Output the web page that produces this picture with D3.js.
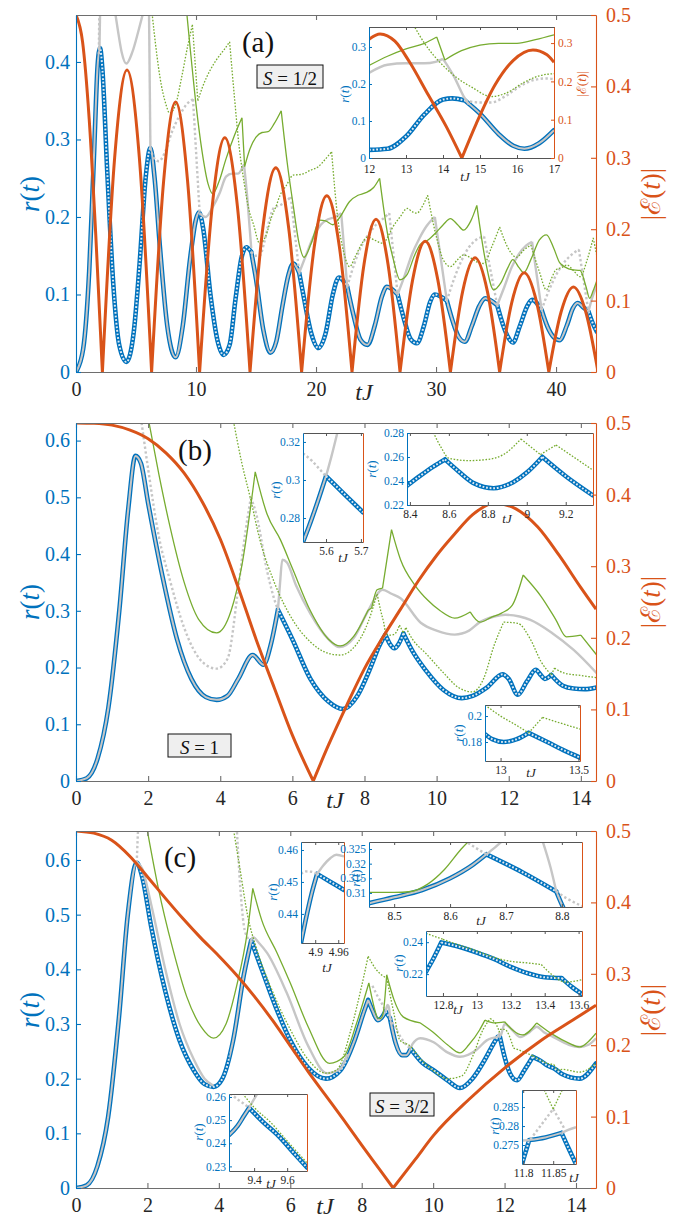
<!DOCTYPE html>
<html>
<head>
<meta charset="utf-8">
<script src="https://cdn.jsdelivr.net/npm/d3@7"></script>
<style>
body { margin: 0; background: #fff; }
svg { display: block; }
svg text { font-family: 'Liberation Serif', 'Times New Roman', Times, 'DejaVu Serif', serif; }
</style>
</head>
<body>
<script>
// points are [tJ, value] ; a third entry 1 marks a cusp (curve restarts there)

// ---------- panel (a), S = 1/2 ----------
var aTicksX = [0, 10, 20, 30, 40];
var aTicksR = [0, 0.1, 0.2, 0.3, 0.4];
var eTicks = [0, 0.1, 0.2, 0.3, 0.4, 0.5];

var aOrange = [
  [0,0.5],[0.55,0.462],[1.1,0.354],[1.65,0.191],[2.2,0,1],
  [3.22,0.30],[4.25,0.423],[5.28,0.30],[6.3,0,1],
  [7.3,0.267],[8.3,0.378],[9.3,0.267],[10.3,0,1],
  [11.35,0.232],[12.4,0.328],[13.45,0.232],[14.5,0,1],
  [15.57,0.202],[16.65,0.286],[17.72,0.202],[18.8,0,1],
  [19.85,0.175],[20.9,0.247],[21.95,0.175],[23.0,0,1],
  [24.0,0.151],[25.0,0.214],[26.0,0.151],[27.0,0,1],
  [28.05,0.129],[29.1,0.183],[30.15,0.129],[31.2,0,1],
  [32.22,0.113],[33.25,0.160],[34.28,0.113],[35.3,0,1],
  [36.32,0.098],[37.35,0.139],[38.38,0.098],[39.4,0,1],
  [40.42,0.084],[41.45,0.119],[42.48,0.084],[43.5,0,1]
];
var aBlue = [
  [0,0],[0.6,0.03],[1.1,0.13],[1.5,0.28],[1.8,0.395],[2.0,0.418],[2.2,0.39],[2.6,0.26],[3.1,0.115],
  [3.6,0.035],[4.2,0.013],[4.8,0.05],[5.3,0.14],[5.8,0.25],[6.2,0.289],[6.55,0.25],[7.0,0.16],
  [7.6,0.06],[8.3,0.019],[8.9,0.06],[9.5,0.145],[10.0,0.197],[10.25,0.206],[10.6,0.185],[11.2,0.1],
  [11.8,0.04],[12.3,0.022],[12.8,0.035],[13.3,0.095],[13.8,0.148],[14.2,0.161],[14.6,0.155,1],
  [15.0,0.12],[15.6,0.055],[16.2,0.025],[16.7,0.04],[17.2,0.085],[17.7,0.125],[18.1,0.14],
  [18.6,0.128,1],[19.0,0.095],[19.6,0.05],[20.2,0.031],[20.8,0.05],[21.4,0.1],[21.9,0.122],
  [22.6,0.11,1],[23.1,0.075],[23.7,0.042],[24.3,0.035],[24.9,0.06],[25.5,0.098],[25.9,0.11],
  [26.8,0.1,1],[27.3,0.07],[27.9,0.042],[28.4,0.037],[29.0,0.06],[29.5,0.09],[29.9,0.1],
  [30.9,0.092,1],[31.4,0.065],[31.9,0.045],[32.4,0.039],[33.0,0.06],[33.6,0.085],[34.1,0.095],
  [35.1,0.086,1],[35.6,0.06],[36.0,0.045],[36.4,0.038],[37.0,0.06],[37.6,0.085],[38.0,0.093],
  [38.8,0.08,1],[39.3,0.058],[39.8,0.045],[40.3,0.041],[40.9,0.06],[41.4,0.082],[41.8,0.089],
  [42.3,0.083],[42.7,0.078,1],[43.0,0.065],[43.4,0.052]
];
var aCore = [[0,2.0],[6.2,10.3],[14.6,18.6],[22.6,26.8],[30.9,35.1],[38.8,42.7]];
var aDots = [[2.0,6.2],[10.3,14.6],[18.6,22.6],[26.8,30.9],[35.1,38.8],[42.7,44]];
var aGraySolid = [
  [[1.95,0.415],[2.05,0.5]],
  [[3.2,0.47],[3.5,0.44],[3.8,0.413],[4.2,0.398],[4.7,0.413],[5.2,0.44],[5.7,0.47]],
  [[6.08,0.47],[6.2,0.289]],
  [[10.3,0.205],[10.8,0.2],[11.4,0.213],[12.0,0.232],[12.5,0.252],[13.0,0.256],[13.5,0.256],[14.0,0.268,1],[14.3,0.22],[14.6,0.16]],
  [[18.6,0.128],[19.2,0.152],[19.8,0.175],[20.4,0.19],[21.0,0.197],[21.6,0.2],[22.1,0.205,1],[22.6,0.11]],
  [[26.8,0.1],[27.4,0.125],[28.0,0.152],[28.6,0.172],[29.2,0.188],[29.9,0.2,1],[30.9,0.092]],
  [[35.1,0.086],[35.7,0.11],[36.3,0.135],[36.9,0.152],[37.5,0.163],[38.0,0.168,1],[38.8,0.08]],
  [[42.7,0.078],[43.0,0.095],[43.4,0.112]]
];
var aGrayDot = [
  [[1.9,0.41],[1.97,0.5]],
  [[6.2,0.289],[6.5,0.276],[6.9,0.272],[7.4,0.283],[8.0,0.31],[8.6,0.33],[9.2,0.345],[9.75,0.352,1],[10.3,0.206]],
  [[14.6,0.155],[15.0,0.15],[15.3,0.15],[15.7,0.168],[16.1,0.195],[16.5,0.212],[17.0,0.215],[17.5,0.22],[17.9,0.226,1],[18.6,0.128]],
  [[22.6,0.11],[23.2,0.14],[23.8,0.163],[24.4,0.178],[25.0,0.19],[25.6,0.198],[26.1,0.205,1],[26.8,0.1]],
  [[30.9,0.092],[31.5,0.12],[32.1,0.143],[32.7,0.16],[33.3,0.17],[34.0,0.175,1],[35.1,0.086]],
  [[38.8,0.08],[39.4,0.105],[40.0,0.125],[40.6,0.14],[41.2,0.15],[41.9,0.158,1],[42.7,0.078]]
];
var aGreenSolid = [
  [9.0,0.5],[9.5,0.42],[10.0,0.345],[10.5,0.285],[11.0,0.243],[11.4,0.23],[11.9,0.245],[12.5,0.275],
  [13.2,0.305],[13.83,0.328,1],[14.05,0.265,1],[14.5,0.288],[15.0,0.303],[15.5,0.309],[16.0,0.31],
  [16.5,0.32],[17.1,0.337,1],[17.6,0.27],[18.1,0.215],[18.6,0.165],[19.0,0.148],[19.6,0.166],
  [20.3,0.196],[20.8,0.195],[21.4,0.19],[22.0,0.2],[22.8,0.22],[23.5,0.228],[24.1,0.231],[24.8,0.238],
  [25.3,0.25,1],[26.0,0.175],[26.4,0.148],[27.0,0.119],[27.6,0.126],[28.2,0.15],[28.7,0.165],
  [29.3,0.17],[30.0,0.18],[30.6,0.19],[31.2,0.198],[31.8,0.19],[32.3,0.183],[32.9,0.195],
  [33.4,0.215,1],[34.1,0.145],[34.8,0.106],[35.4,0.115],[36.0,0.135],[36.4,0.145],[36.9,0.135],
  [37.3,0.128],[37.9,0.145],[38.6,0.17],[39.2,0.177],[39.8,0.16],[40.3,0.141],[40.8,0.135],
  [41.3,0.132],[42.0,0.131],[42.5,0.11],[42.8,0.095],[43.1,0.105],[43.4,0.118]
];
var aGreenDot = [
  [6.1,0.5],[6.5,0.44],[7.0,0.38],[7.5,0.345],[7.8,0.334],[8.3,0.345],[8.8,0.38],[9.3,0.42],
  [9.7,0.448,1],[10.15,0.35,1],[10.6,0.37],[11.2,0.39],[11.8,0.405],[12.3,0.415],[12.8,0.426,1],
  [13.2,0.355],[13.6,0.29],[14.0,0.245],[14.4,0.21],[14.8,0.19],[15.3,0.166],[15.8,0.175],
  [16.3,0.2],[16.7,0.215],[17.0,0.228],[17.5,0.24],[18.1,0.254],[18.8,0.255],[19.5,0.26],
  [20.2,0.265],[20.8,0.275],[21.3,0.284,1],[21.8,0.2],[22.3,0.155],[22.8,0.136],[23.3,0.15],
  [23.8,0.165],[24.3,0.174],[24.9,0.17],[25.6,0.166],[26.0,0.175],[26.4,0.187],[27.0,0.2],
  [27.6,0.211],[28.0,0.207],[28.4,0.205],[28.9,0.215],[29.3,0.228,1],[30.1,0.17],[30.6,0.145],
  [31.2,0.136],[31.8,0.145],[32.3,0.151],[32.8,0.148],[33.4,0.142],[34.0,0.14],[34.6,0.16],
  [35.3,0.187,1],[36.0,0.16],[36.7,0.148],[37.3,0.157],[37.9,0.164,1],[38.6,0.13],[39.2,0.106],
  [39.6,0.12],[40.0,0.132],[40.5,0.135],[40.9,0.138],[41.5,0.13],[42.0,0.123],[42.6,0.145],
  [43.1,0.173,1],[43.4,0.15]
];

// inset of (a), 12 < tJ < 17
var iaTicksX = [12, 13, 14, 15, 16, 17];
var iaTicksR = [0, 0.1, 0.2, 0.3];
var iaBlue = [[12,0.022],[12.5,0.025],[13,0.058],[13.5,0.118],[14,0.158],[14.25,0.161],[14.6,0.155,1],
  [15,0.12],[15.5,0.065],[15.9,0.033],[16.2,0.025],[16.6,0.04],[17,0.075]];
var iaCore = [[14.6,17.1]];
var iaDots = [[11.9,14.6]];
var iaGraySolid = [[[12,0.23],[12.5,0.252],[13,0.256],[13.5,0.256],[13.8,0.26],[14.0,0.268,1],[14.3,0.22],[14.55,0.168],[14.7,0.145]]];
var iaGrayDot = [[[14.6,0.155],[15.0,0.15],[15.3,0.15],[15.7,0.168],[16.1,0.195],[16.5,0.212],[16.8,0.215],[17,0.213]]];
var iaGreenSolid = [[12,0.25],[12.5,0.275],[13,0.295],[13.5,0.31],[13.83,0.327,1],[14.05,0.265,1],[14.5,0.29],
  [15,0.305],[15.5,0.31],[16,0.31],[16.5,0.32],[17,0.333]];
var iaGreenDot = [[13.2,0.36],[13.5,0.31],[14,0.25],[14.4,0.215],[14.8,0.19],[15.3,0.166],[15.7,0.175],
  [16.2,0.205],[16.6,0.222],[17,0.228]];
var iaOrange = [[12,0.31],[12.3,0.324],[12.7,0.305],[13.1,0.25],[13.6,0.165],[14.1,0.08],[14.51,0,1],
  [14.9,0.09],[15.4,0.19],[15.9,0.255],[16.43,0.282],[16.8,0.27],[17,0.25]];

// ---------- panel (b), S = 1 ----------
var bcTicksX = [0, 2, 4, 6, 8, 10, 12, 14];
var bcTicksR = [0, 0.1, 0.2, 0.3, 0.4, 0.5, 0.6];
var bOrange = [[0,0.5],[0.5,0.4995],[1.0,0.497],[1.5,0.49],[2.0,0.478],[2.5,0.458],[3.0,0.43],
  [3.5,0.39],[4.0,0.338],[4.5,0.27],[5.0,0.197],[5.5,0.13],[6.0,0.064],[6.58,0,1],[7.0,0.05],
  [7.5,0.105],[8.0,0.157],[8.5,0.2],[9.0,0.24],[9.5,0.28],[10.0,0.315],[10.5,0.345],[11.0,0.372],
  [11.6,0.388],[12.2,0.38],[12.8,0.355],[13.4,0.315],[14.0,0.27],[14.42,0.24]];
var bBlue = [[0,0],[0.3,0.005],[0.6,0.04],[0.9,0.13],[1.2,0.3],[1.45,0.48],[1.65,0.573],[1.8,0.56],
  [2.0,0.49],[2.4,0.36],[2.8,0.25],[3.2,0.18],[3.6,0.148],[3.9,0.143],[4.2,0.15],[4.5,0.18],
  [4.9,0.222],[5.2,0.205],[5.4,0.24],[5.6,0.302,1],[6.0,0.25],[6.5,0.18],[7.0,0.14],[7.4,0.127],
  [7.8,0.15],[8.2,0.205],[8.4,0.237],[8.58,0.258,1],[8.7,0.242],[8.83,0.234],[8.95,0.242],
  [9.08,0.26,1],[9.34,0.228],[9.7,0.195],[10.2,0.16],[10.7,0.146],[11.0,0.15],[11.4,0.165],
  [11.83,0.188],[12.0,0.18],[12.25,0.152],[12.5,0.175],[12.75,0.196],[12.9,0.186],[13.0,0.18],
  [13.18,0.187,1],[13.5,0.168],[13.8,0.163],[14.1,0.162],[14.44,0.165]];
var bCore = [[0,5.6]];
var bDots = [[5.6,15]];
var bGraySolid = [[[5.6,0.302],[5.66,0.35],[5.72,0.39],[5.85,0.385],[6.1,0.345],[6.5,0.295],[7.0,0.25],
  [7.3,0.236],[7.7,0.252],[8.1,0.3],[8.5,0.337],[8.75,0.33],[9.0,0.322],[9.56,0.279],[10.0,0.265],
  [10.5,0.258],[10.9,0.265],[11.2,0.28],[11.6,0.29],[11.9,0.293],[12.3,0.29],[12.6,0.284],
  [13.2,0.261],[13.8,0.231],[14.44,0.19]]];
var bGrayDot = [[[1.8,0.64],[2.0,0.55],[2.3,0.43],[2.6,0.355],[3.0,0.27],[3.5,0.21],[3.9,0.198],
  [4.2,0.215],[4.5,0.34],[4.7,0.44],[4.85,0.5,1],[5.0,0.47],[5.3,0.37],[5.53,0.314],[5.6,0.302]]];
var bGreenSolid = [[2.0,0.64],[2.3,0.54],[2.6,0.45],[3.0,0.35],[3.4,0.285],[3.9,0.261],[4.3,0.3],
  [4.6,0.38],[4.97,0.545,1],[5.3,0.47],[5.67,0.425],[6.0,0.375],[6.5,0.3],[7.0,0.25],[7.33,0.238],
  [7.7,0.255],[8.1,0.301,1],[8.2,0.305,1],[8.35,0.337],[8.5,0.34,1],[8.75,0.443,1],[9.0,0.39],
  [9.4,0.345],[9.75,0.319],[10.1,0.3],[10.5,0.287],[10.93,0.298,1],[11.2,0.28],[11.5,0.288],
  [11.8,0.296],[12.1,0.31],[12.4,0.363,1],[12.9,0.325],[13.3,0.285],[13.6,0.254],[14.0,0.257,1],
  [14.44,0.222]];
var bGreenDot = [[4.35,0.64],[4.6,0.56],[4.83,0.5],[5.1,0.425],[5.5,0.35],[6.0,0.285],[6.5,0.245],
  [7.0,0.225],[7.33,0.222],[7.7,0.235],[8.1,0.28],[8.35,0.33,1],[8.45,0.3],[8.53,0.28],[8.6,0.259],
  [8.7,0.257],[8.8,0.258],[8.9,0.264],[8.97,0.275,1],[9.07,0.262,1],[9.15,0.27,1],[9.34,0.249],
  [9.7,0.225],[10.2,0.19],[10.6,0.165],[11.0,0.157],[11.3,0.18],[11.6,0.24],[11.86,0.28,1],
  [12.25,0.278],[12.6,0.25],[12.9,0.21],[13.18,0.187,1],[13.27,0.199,1],[13.55,0.19],[14.0,0.186],
  [14.44,0.182]];

// insets of (b)
var ib1TicksX = [5.6, 5.7];
var ib1TicksR = [0.28, 0.3, 0.32];
var ib1Blue = [[5.534,0.2674],[5.55,0.275],[5.575,0.288],[5.6,0.302,1],[5.65,0.293],[5.706,0.283]];
var ib1Core = [[5.5,5.6]];
var ib1Dots = [[5.6,5.8]];
var ib1GraySolid = [[[5.6,0.302],[5.615,0.312],[5.634,0.326]]];
var ib1GrayDot = [[[5.534,0.314],[5.56,0.31],[5.58,0.306],[5.6,0.302]]];

var ib2TicksX = [8.4, 8.6, 8.8, 9, 9.2];
var ib2TicksR = [0.22, 0.24, 0.26, 0.28];
var ib2Blue = [[8.385,0.236],[8.45,0.244],[8.52,0.252],[8.58,0.258,1],[8.65,0.248],[8.73,0.238],
  [8.83,0.234],[8.93,0.239],[9.0,0.247],[9.08,0.26,1],[9.2,0.244],[9.34,0.228]];
var ib2Dots = [[8.3,9.4]];
var ib2GreenDot = [[8.52,0.2805],[8.56,0.268],[8.6,0.259],[8.7,0.257],[8.8,0.258],[8.88,0.262],
  [8.97,0.275,1],[9.07,0.262,1],[9.15,0.27,1],[9.34,0.249]];

var ib3TicksX = [13, 13.5];
var ib3TicksR = [0.18, 0.2];
var ib3Blue = [[12.9,0.186],[12.95,0.182],[13.02,0.18],[13.1,0.182],[13.18,0.187,1],[13.3,0.18],
  [13.4,0.174],[13.51,0.168]];
var ib3Dots = [[12.8,13.6]];
var ib3GreenDot = [[12.9,0.2085],[13.0,0.2],[13.1,0.193],[13.18,0.187,1],[13.27,0.199,1],[13.4,0.194],
  [13.51,0.19]];

// ---------- panel (c), S = 3/2 ----------
var cOrange = [[0,0.5],[0.5,0.497],[1.0,0.487],[1.5,0.465],[2.0,0.436],[2.5,0.406],[3.0,0.377],
  [3.5,0.35],[4.0,0.325],[4.5,0.298],[5.0,0.268],[5.5,0.235],[6.0,0.199],[6.5,0.163],[7.0,0.129],
  [7.5,0.095],[8.0,0.06],[8.5,0.026],[8.88,0,1],[9.5,0.04],[10.0,0.073],[11.0,0.124],[12.0,0.168],
  [13.0,0.206],[14.0,0.238],[14.56,0.256]];
var cBlue = [[0,0],[0.3,0.005],[0.6,0.04],[0.9,0.13],[1.2,0.31],[1.45,0.5],[1.7,0.595],[1.85,0.57],
  [2.1,0.48],[2.5,0.36],[2.9,0.27],[3.3,0.215],[3.6,0.19],[3.85,0.185],[4.1,0.2],[4.4,0.27],
  [4.7,0.39],[4.905,0.4525,1],[5.2,0.4],[5.6,0.33],[6.0,0.27],[6.5,0.22],[7.0,0.2],[7.4,0.215],
  [7.8,0.27],[8.05,0.32],[8.18,0.344,1],[8.3,0.325],[8.45,0.307],[8.55,0.311],[8.665,0.323,1],
  [8.79,0.311,1],[8.95,0.265],[9.13,0.243],[9.25,0.243],[9.37,0.255,1],[9.7,0.229],[10.0,0.216],
  [10.4,0.197],[10.75,0.183],[11.1,0.2],[11.45,0.235],[11.7,0.265],[11.81,0.2765,1],[11.864,0.278,1],
  [12.0,0.24],[12.15,0.21],[12.35,0.197],[12.55,0.215],[12.79,0.24,1],[13.0,0.233],[13.2,0.224],
  [13.4,0.218],[13.62,0.208],[14.1,0.2],[14.56,0.228]];
var cCore = [[0,1.72],[4.3,4.905],[7.6,8.665],[8.79,9.37],[11.81,11.864]];
var cDots = [[1.72,4.3],[4.905,7.6],[8.665,8.79],[9.37,11.81],[11.864,15]];
var cGraySolid = [
  [[1.72,0.595],[1.85,0.585],[2.1,0.52],[2.5,0.4],[2.9,0.3],[3.3,0.235],[3.6,0.2],[3.85,0.187]],
  [[4.905,0.4525],[4.94,0.458],[4.97,0.4585],[5.1,0.45],[5.35,0.43],[5.9,0.357],[6.5,0.26],[7.03,0.21],[7.4,0.218],[7.6,0.245]],
  [[8.665,0.323],[8.69,0.328],[8.72,0.335],[8.75,0.333],[8.77,0.327],[8.79,0.311]],
  [[9.37,0.255],[9.42,0.263],[9.64,0.274],[10.0,0.267],[10.4,0.248],[10.75,0.24],[11.2,0.252],[11.5,0.27],[11.81,0.2765]],
  [[11.864,0.278],[11.9,0.28],[12.0,0.3],[12.2,0.29],[12.44,0.276],[12.7,0.285],[12.9,0.295],[13.1,0.285],
   [13.37,0.276],[13.8,0.262],[14.1,0.258],[14.35,0.262],[14.56,0.274]]
];
var cGrayDot = [
  [[1.7,0.595],[1.74,0.66]],
  [[4.5,0.66],[4.6,0.55],[4.7,0.48],[4.8,0.458],[4.86,0.4527],[4.905,0.4525]],
  [[8.3,0.37],[8.45,0.35],[8.6,0.333],[8.665,0.3232]],
  [[8.79,0.311],[8.9,0.298],[9.1,0.275],[9.26,0.261],[9.37,0.255]],
  [[11.81,0.2765],[11.85,0.2845,1],[11.864,0.278]]
];
var cGreenSolid = [[1.98,0.66],[2.3,0.55],[2.7,0.44],[3.1,0.35],[3.5,0.295],[3.85,0.274],[4.2,0.3],
  [4.5,0.37],[4.8,0.47],[4.95,0.548,1],[5.2,0.49],[5.63,0.43],[6.0,0.375],[6.5,0.295],[7.1,0.228],
  [7.5,0.24],[7.85,0.3],[8.2,0.375,1],[8.35,0.33],[8.45,0.311],[8.53,0.31],[8.6,0.32],[8.7,0.39,1],
  [8.9,0.345],[9.16,0.313],[9.64,0.302,1],[10.0,0.285],[10.4,0.262],[10.75,0.247],[11.0,0.262],
  [11.3,0.289],[11.45,0.307,1],[11.7,0.302],[12.0,0.304,1],[12.5,0.28],[12.9,0.302,1],[13.37,0.28],
  [13.8,0.265],[14.1,0.258],[14.35,0.268],[14.56,0.283]];
var cGreenDot = [[4.4,0.66],[4.6,0.58],[4.8,0.5],[5.07,0.435],[5.5,0.36],[6.0,0.29],[6.5,0.235],
  [7.0,0.21],[7.3,0.216],[7.7,0.29],[8.0,0.37],[8.18,0.424,1],[8.4,0.4],[8.7,0.384,1],[8.9,0.32],
  [9.07,0.27],[9.33,0.261],[9.72,0.231],[10.0,0.215],[10.4,0.2],[10.8,0.205],[11.1,0.24],[11.4,0.29],
  [11.6,0.31,1],[11.83,0.29],[11.85,0.2845,1],[11.87,0.29],[12.0,0.29],[12.25,0.256,1],[12.5,0.25],
  [12.8,0.2415,1],[13.0,0.234],[13.2,0.228],[13.38,0.226,1],[13.5,0.216],[13.62,0.217],[14.1,0.212],
  [14.56,0.228]];

// insets of (c)
var ic1TicksX = [4.9, 4.96];
var ic1TicksR = [0.44, 0.45, 0.46];
var ic1Blue = [[4.863,0.431],[4.875,0.438],[4.89,0.446],[4.905,0.4525,1],[4.94,0.45],[4.975,0.4475]];
var ic1Core = [[4.8,4.905]];
var ic1Dots = [[4.905,5]];
var ic1GraySolid = [[[4.905,0.4525],[4.92,0.455],[4.94,0.4575],[4.955,0.4585],[4.975,0.458]]];
var ic1GrayDot = [[[4.863,0.4525],[4.875,0.4533],[4.89,0.4532],[4.905,0.4525]]];

var ic2TicksX = [8.5, 8.6, 8.7, 8.8];
var ic2TicksR = [0.31, 0.315, 0.32, 0.325];
var ic2Blue = [[8.455,0.3065],[8.5,0.3085],[8.55,0.311],[8.6,0.315],[8.64,0.3195],[8.665,0.3232,1],
  [8.73,0.317],[8.79,0.3105,1],[8.8,0.306],[8.815,0.3]];
var ic2Core = [[8.4,8.665],[8.79,8.9]];
var ic2Dots = [[8.665,8.79]];
var ic2GraySolid = [[[8.665,0.3232],[8.68,0.3255],[8.695,0.328]],[[8.765,0.328],[8.78,0.3185],[8.79,0.3105]]];
var ic2GrayDot = [[[8.625,0.328],[8.645,0.3255],[8.665,0.3232]],[[8.79,0.3105],[8.81,0.308],[8.836,0.3055]]];
var ic2GreenSolid = [[8.455,0.3102],[8.5,0.3102],[8.53,0.3105],[8.56,0.313],[8.59,0.318],[8.62,0.325],[8.635,0.328]];

var ic3TicksX = [9.4, 9.6];
var ic3TicksR = [0.23, 0.24, 0.25, 0.26];
var ic3Blue = [[9.248,0.2435],[9.3,0.2475],[9.34,0.252],[9.37,0.2553,1],[9.45,0.2495],[9.55,0.243],
  [9.65,0.235],[9.72,0.2295]];
var ic3Core = [[9.2,9.37]];
var ic3Dots = [[9.37,9.8]];
var ic3GraySolid = [[[9.37,0.2553],[9.395,0.2585],[9.42,0.2615]]];
var ic3GrayDot = [[[9.255,0.2615],[9.3,0.259],[9.34,0.257],[9.37,0.2553]]];
var ic3GreenDot = [[9.33,0.2615],[9.4,0.2555],[9.5,0.249],[9.6,0.241],[9.72,0.2315]];

var ic4TicksX = [12.8, 13, 13.2, 13.4, 13.6];
var ic4TicksR = [0.22, 0.24];
var ic4Blue = [[12.7,0.2215],[12.74,0.229],[12.79,0.2398,1],[12.9,0.237],[13.0,0.2335],[13.1,0.2295],
  [13.2,0.2245],[13.3,0.2205],[13.4,0.218],[13.5,0.2175,1],[13.56,0.212],[13.62,0.2075]];
var ic4Dots = [[12.6,13.7]];
var ic4GreenDot = [[12.7,0.2455],[12.8,0.2418,1],[12.9,0.238],[13.0,0.2345],[13.1,0.2305],[13.2,0.228],
  [13.3,0.227],[13.38,0.226,1],[13.45,0.219],[13.52,0.215],[13.62,0.2165]];

var ic5TicksX = [11.8, 11.85];
var ic5TicksR = [0.275, 0.28, 0.285];
var ic5Blue = [[11.798,0.27],[11.81,0.2763,1],[11.837,0.277],[11.864,0.2782,1],[11.876,0.274],[11.888,0.27]];
var ic5Core = [[11.81,11.864]];
var ic5Dots = [[11.79,11.81],[11.864,11.9]];
var ic5GraySolid = [[[11.798,0.2762],[11.81,0.2763]],[[11.864,0.2782],[11.875,0.279],[11.888,0.2797]]];
var ic5GrayDot = [[[11.812,0.2765],[11.85,0.2845,1],[11.868,0.2795]]];
var ic5GreenDot = [[11.835,0.2895],[11.85,0.2845,1],[11.865,0.2895]];

// ---------- drawing ----------
var BLUE = '#0072BD', ORANGE = '#D95319', GREEN = '#77AC30', GRAY = '#c6c6c6';
var uid = 0;
var fmt = d3.format('~g');

var svg = d3.select('body').append('svg')
    .attr('width', 688).attr('height', 1218);

function splitAtCusps(pts) {
    var segs = [[]];
    pts.forEach(function(p, i) {
        segs[segs.length - 1].push(p);
        if (p[2] && i > 0 && i < pts.length - 1) segs.push([p]);
    });
    return segs;
}

function createFrame(box, xDom, yDom, eDom, inset) {
    var f = {box: box};
    f.x = d3.scaleLinear().domain(xDom).range([box.x0, box.x1]);
    f.y = d3.scaleLinear().domain(yDom).range([box.y1, box.y0]);
    f.e = eDom ? d3.scaleLinear().domain(eDom).range([box.y1, box.y0]) : null;
    var id = 'clip' + (uid++);
    svg.append('clipPath').attr('id', id).append('rect')
        .attr('x', box.x0).attr('y', box.y0)
        .attr('width', box.x1 - box.x0).attr('height', box.y1 - box.y0);
    f.g = svg.append('g');
    if (inset) {
        f.g.append('rect').attr('x', box.x0).attr('y', box.y0)
            .attr('width', box.x1 - box.x0).attr('height', box.y1 - box.y0)
            .attr('fill', '#fff');
    }
    f.plot = f.g.append('g').attr('clip-path', 'url(#' + id + ')');
    return f;
}

function linePath(f, pts, scaleY) {
    var line = d3.line()
        .x(function(d) { return f.x(d[0]); })
        .y(function(d) { return scaleY(d[1]); })
        .curve(d3.curveMonotoneX);
    return splitAtCusps(pts).map(function(s) { return line(s); }).join('');
}

function putLine(f, pts, color, width, dash, scaleY) {
    return f.plot.append('path')
        .attr('d', linePath(f, pts, scaleY || f.y))
        .attr('fill', 'none')
        .attr('stroke', color)
        .attr('stroke-width', width)
        .attr('stroke-dasharray', dash || null)
        .attr('stroke-linejoin', 'round');
}

function rangeClip(f, ranges) {
    var id = 'clip' + (uid++);
    var cp = svg.append('clipPath').attr('id', id);
    ranges.forEach(function(r) {
        cp.append('rect').attr('x', f.x(r[0])).attr('y', f.box.y0 - 5)
            .attr('width', f.x(r[1]) - f.x(r[0])).attr('height', f.box.y1 - f.box.y0 + 10);
    });
    return 'url(#' + id + ')';
}

function drawCurves(f, d, s) {
    if (d.blue) {
        putLine(f, d.blue, BLUE, s.blue).attr('stroke-linecap', 'round');
        if (d.core) putLine(f, d.blue, GRAY, s.core).attr('clip-path', rangeClip(f, d.core));
        if (d.dots) putLine(f, d.blue, '#e2eaf2', s.core, s.dotDash).attr('clip-path', rangeClip(f, d.dots));
    }
    (d.graySolid || []).forEach(function(seg) { putLine(f, seg, GRAY, s.gray); });
    (d.grayDot || []).forEach(function(seg) { putLine(f, seg, GRAY, s.gray, s.grayDash); });
    if (d.greenSolid) putLine(f, d.greenSolid, GREEN, s.green);
    if (d.greenDot) putLine(f, d.greenDot, GREEN, s.green, s.greenDash);
    if (d.orange) putLine(f, d.orange, ORANGE, s.orange, null, f.e);
}

function styleAxis(sel, color, fs, lw, textColor) {
    sel.attr('font-size', fs).attr('font-family', null).attr('color', color);
    sel.select('.domain').attr('stroke-width', lw);
    sel.selectAll('.tick line').attr('stroke-width', lw);
    sel.selectAll('.tick text').attr('fill', textColor || color);
}

function drawAxes(f, o) {
    var b = f.box;
    var bottom = f.g.append('g').attr('transform', 'translate(0,' + b.y1 + ')')
        .call(d3.axisBottom(f.x).tickValues(o.xt).tickFormat(fmt).tickSize(-o.tl).tickSizeOuter(0).tickPadding(o.padB));
    styleAxis(bottom, o.boxColor, o.fs, o.lw, '#262626');
    var top = f.g.append('g').attr('transform', 'translate(0,' + b.y0 + ')')
        .call(d3.axisTop(f.x).tickValues(o.xt).tickSize(-o.tl).tickSizeOuter(0).tickFormat(''));
    styleAxis(top, o.boxColor, o.fs, o.lw);
    var left = f.g.append('g').attr('transform', 'translate(' + b.x0 + ',0)')
        .call(d3.axisLeft(f.y).tickValues(o.yt).tickFormat(fmt).tickSize(-o.tl).tickSizeOuter(0).tickPadding(o.padL));
    styleAxis(left, BLUE, o.fs, o.lw);
    var rightScale = f.e || f.y;
    var right = f.g.append('g').attr('transform', 'translate(' + b.x1 + ',0)')
        .call(d3.axisRight(rightScale).tickValues(o.et || []).tickFormat(fmt).tickSize(-o.tl).tickSizeOuter(0).tickPadding(o.padR));
    styleAxis(right, ORANGE, o.fs, o.lw);
}

function putText(x, y, parts, size, color, rotate) {
    var t = svg.append('text')
        .attr('font-size', size)
        .attr('fill', color)
        .attr('text-anchor', 'middle')
        .attr('dominant-baseline', 'central');
    if (rotate) t.attr('transform', 'translate(' + x + ',' + y + ') rotate(' + rotate + ')');
    else t.attr('x', x).attr('y', y);
    parts.forEach(function(p) {
        t.append('tspan').attr('font-style', p[1] ? 'italic' : null).text(p[0]);
    });
    return t;
}

function putBoxLabel(x0, y0, x1, y1, parts, size) {
    svg.append('rect').attr('x', x0).attr('y', y0).attr('width', x1 - x0).attr('height', y1 - y0)
        .attr('fill', '#efefef').attr('stroke', '#111').attr('stroke-width', 1);
    putText((x0 + x1) / 2, (y0 + y1) / 2 + 1, parts, size, '#111');
}

var R_T = [['r', 1], ['(', 0], ['t', 1], [')', 0]];
var E_T = [['|', 0], ['\u2130', 0], ['(', 0], ['t', 1], [')|', 0]];
var T_J = [['tJ', 1]];

var mainStyle = {blue: 4.6, core: 2, dotDash: '1.8,1.8', gray: 2.4, grayDash: '2.4,2.4', green: 1.3, greenDash: '1.6,1.6', orange: 3};
var mainAxis = {fs: 20, tl: 5, padB: 10, padL: 6, padR: 10, lw: 1.1, boxColor: '#6e6e6e'};
var insetAxis = {fs: 11.5, tl: 3, padB: 5, padL: 3, padR: 3, lw: 1, boxColor: '#555'};

function panel(box, xMax, yMax, xt, yt, data, labels) {
    var f = createFrame(box, [0, xMax], [0, yMax], [0, 0.5], false);
    drawCurves(f, data, mainStyle);
    drawAxes(f, Object.assign({xt: xt, yt: yt, et: eTicks}, mainAxis));
    putText(30, labels.ry, R_T, 27, BLUE, -90);
    putText(651, labels.ry, E_T, 27, ORANGE, -90);
    putText(labels.tx, labels.ty, T_J, 24, '#262626');
    putText(labels.px, labels.py, [[labels.name, 0]], 29, '#111');
    return f;
}

function inset(box, xDom, yDom, eDom, xt, yt, et, data, lab, axisOpts) {
    var f = createFrame(box, xDom, yDom, eDom, true);
    drawCurves(f, data, mainStyle);
    drawAxes(f, Object.assign({xt: xt, yt: yt, et: et}, insetAxis, axisOpts || {}));
    putText(lab.rx, lab.ry, R_T, 13, BLUE, -90);
    putText(lab.tx, lab.ty, T_J, 13, '#262626');
    if (lab.ex) putText(lab.ex, lab.ey, E_T, 13, ORANGE, -90);
    return f;
}

// panel (a)
panel({x0: 76, x1: 596, y0: 15, y1: 372}, 43.33, 0.4606, aTicksX, aTicksR,
    {blue: aBlue, core: aCore, dots: aDots, graySolid: aGraySolid, grayDot: aGrayDot,
     greenSolid: aGreenSolid, greenDot: aGreenDot, orange: aOrange},
    {ry: 194, tx: 364, ty: 392, px: 258, py: 42, name: '(a)'});
putBoxLabel(257, 65, 323, 88, [['S', 1], [' = 1/2', 0]], 19);
inset({x0: 369, x1: 554, y0: 27, y1: 158}, [12, 17], [0, 0.354], [0, 0.342],
    iaTicksX, iaTicksR, iaTicksR,
    {blue: iaBlue, core: iaCore, dots: iaDots, graySolid: iaGraySolid, grayDot: iaGrayDot,
     greenSolid: iaGreenSolid, greenDot: iaGreenDot, orange: iaOrange},
    {rx: 344, ry: 94, tx: 465, ty: 176, ex: 581, ey: 84},
    {padB: 7, padR: 4});

// panel (b)
panel({x0: 76, x1: 596, y0: 423, y1: 781}, 14.42, 0.631, bcTicksX, bcTicksR,
    {blue: bBlue, core: bCore, dots: bDots, graySolid: bGraySolid, grayDot: bGrayDot,
     greenSolid: bGreenSolid, greenDot: bGreenDot, orange: bOrange},
    {ry: 602, tx: 335, ty: 800, px: 195, py: 450, name: '(b)'});
putBoxLabel(168, 734, 231, 757, [['S', 1], [' = 1', 0]], 19);
inset({x0: 303, x1: 363, y0: 433, y1: 542}, [5.534, 5.706], [0.2674, 0.3247], null,
    ib1TicksX, ib1TicksR, null,
    {blue: ib1Blue, core: ib1Core, dots: ib1Dots, graySolid: ib1GraySolid, grayDot: ib1GrayDot},
    {rx: 275, ry: 490, tx: 343, ty: 557});
inset({x0: 407, x1: 593, y0: 433, y1: 505}, [8.385, 9.34], [0.22, 0.28], null,
    ib2TicksX, ib2TicksR, null,
    {blue: ib2Blue, dots: ib2Dots, greenDot: ib2GreenDot},
    {rx: 371, ry: 469, tx: 507, ty: 518});
inset({x0: 485, x1: 580, y0: 705, y1: 761}, [12.9, 13.51], [0.1654, 0.2085], null,
    ib3TicksX, ib3TicksR, null,
    {blue: ib3Blue, dots: ib3Dots, greenDot: ib3GreenDot},
    {rx: 458, ry: 733, tx: 531, ty: 772});

// panel (c)
panel({x0: 76, x1: 596, y0: 831, y1: 1188}, 14.56, 0.653, bcTicksX, bcTicksR,
    {blue: cBlue, core: cCore, dots: cDots, graySolid: cGraySolid, grayDot: cGrayDot,
     greenSolid: cGreenSolid, greenDot: cGreenDot, orange: cOrange},
    {ry: 1010, tx: 325, ty: 1206, px: 180, py: 857, name: '(c)'});
putBoxLabel(370, 1093, 434, 1116, [['S', 1], [' = 3/2', 0]], 19);
inset({x0: 301, x1: 344, y0: 842, y1: 943}, [4.863, 4.975], [0.4309, 0.4625], null,
    ic1TicksX, ic1TicksR, null,
    {blue: ic1Blue, core: ic1Core, dots: ic1Dots, graySolid: ic1GraySolid, grayDot: ic1GrayDot},
    {rx: 272, ry: 892, tx: 327, ty: 967});
inset({x0: 369, x1: 582, y0: 842, y1: 907}, [8.455, 8.836], [0.3052, 0.3274], null,
    ic2TicksX, ic2TicksR, null,
    {blue: ic2Blue, core: ic2Core, dots: ic2Dots, graySolid: ic2GraySolid, grayDot: ic2GrayDot,
     greenSolid: ic2GreenSolid},
    {rx: 355, ry: 878, tx: 481, ty: 920});
inset({x0: 229, x1: 307, y0: 1094, y1: 1171}, [9.248, 9.72], [0.228, 0.2613], null,
    ic3TicksX, ic3TicksR, null,
    {blue: ic3Blue, core: ic3Core, dots: ic3Dots, graySolid: ic3GraySolid, grayDot: ic3GrayDot,
     greenDot: ic3GreenDot},
    {rx: 198, ry: 1132, tx: 271, ty: 1183});
inset({x0: 426, x1: 582, y0: 931, y1: 996}, [12.7, 13.62], [0.2063, 0.247], null,
    ic4TicksX, ic4TicksR, null,
    {blue: ic4Blue, dots: ic4Dots, greenDot: ic4GreenDot},
    {rx: 398, ry: 963, tx: 458, ty: 1009});
inset({x0: 522, x1: 576, y0: 1090, y1: 1164}, [11.798, 11.888], [0.27, 0.2895], null,
    ic5TicksX, ic5TicksR, null,
    {blue: ic5Blue, core: ic5Core, dots: ic5Dots, graySolid: ic5GraySolid, grayDot: ic5GrayDot,
     greenDot: ic5GreenDot},
    {rx: 494, ry: 1126, tx: 574, ty: 1177});
</script>
</body>
</html>
